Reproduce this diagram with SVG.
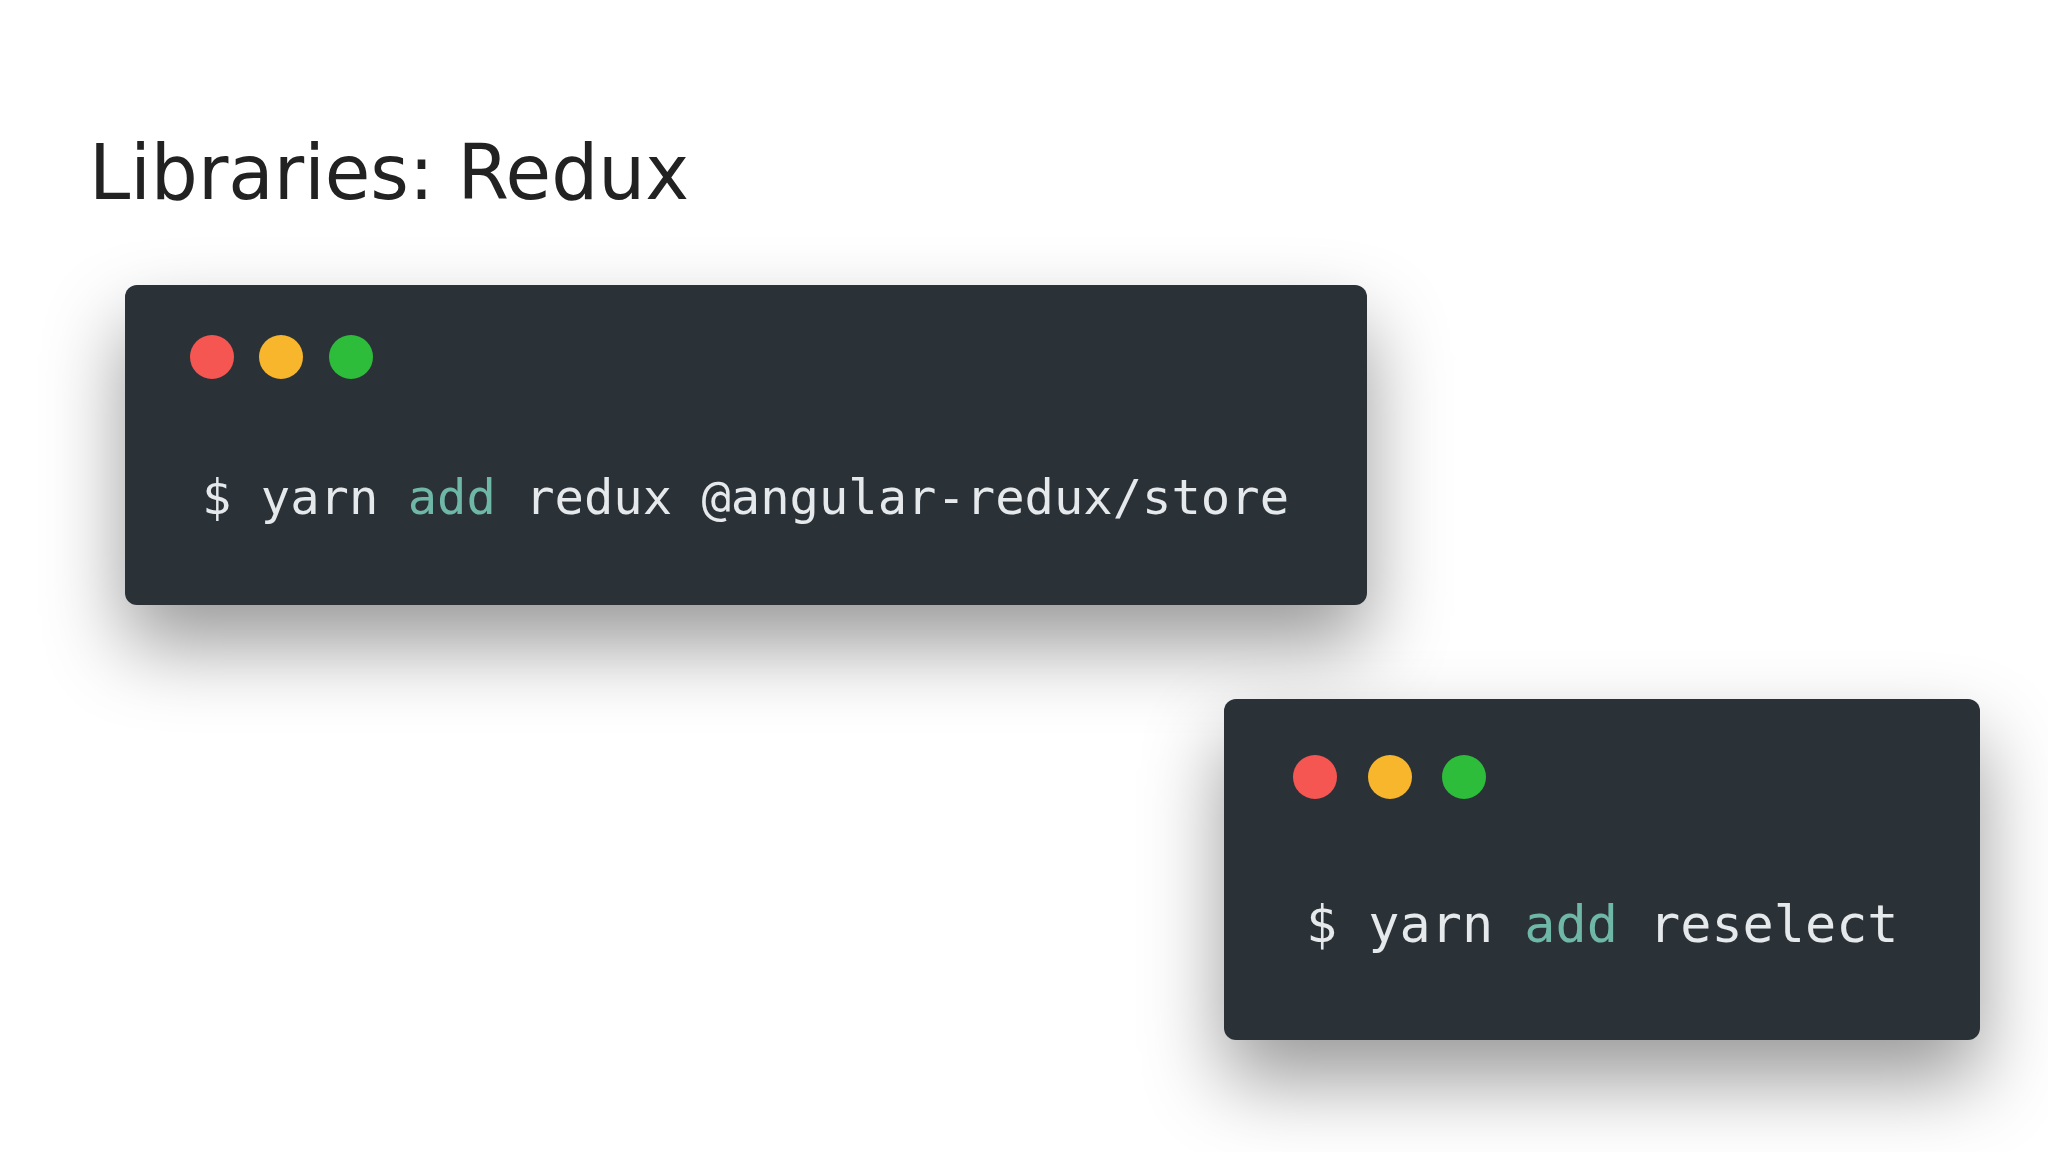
<svg xmlns="http://www.w3.org/2000/svg" width="2048" height="1152" viewBox="0 0 2048 1152">
<defs>
<style>
.term{fill:#2a3139}
.code{font-family:"DejaVu Sans Mono","Liberation Mono",monospace;fill:#e6e9ec}
.kw{fill:#6fb8a8}
.title{font-family:"Comic Sans MS","DejaVu Sans",sans-serif;font-size:76px;fill:#222}
</style>
<filter id="sh" x="-20%" y="-40%" width="140%" height="200%">
<feDropShadow dx="0" dy="40" stdDeviation="40" flood-color="#000" flood-opacity="0.4"/>
</filter>
</defs>
<rect width="2048" height="1152" fill="#ffffff"/>
<text class="title" x="89" y="199" textLength="600" lengthAdjust="spacingAndGlyphs">Libraries: Redux</text>
<g id="terminal1">
<rect class="term" x="125" y="285" width="1242" height="320" rx="12" filter="url(#sh)"/>
<circle cx="212" cy="357" r="22" fill="#f65652"/>
<circle cx="281" cy="357" r="22" fill="#f7b62b"/>
<circle cx="351" cy="357" r="22" fill="#2ebd3a"/>
<text class="code" x="202" y="514" font-size="48.8">$ yarn <tspan class="kw">add</tspan> redux @angular-redux/store</text>
</g>
<g id="terminal2">
<rect class="term" x="1224" y="699" width="756" height="341" rx="12" filter="url(#sh)"/>
<circle cx="1315" cy="777" r="22" fill="#f65652"/>
<circle cx="1390" cy="777" r="22" fill="#f7b62b"/>
<circle cx="1464" cy="777" r="22" fill="#2ebd3a"/>
<text class="code" x="1306" y="942" font-size="51.8">$ yarn <tspan class="kw">add</tspan> reselect</text>
</g>
<g id="connectors"/>
</svg>
